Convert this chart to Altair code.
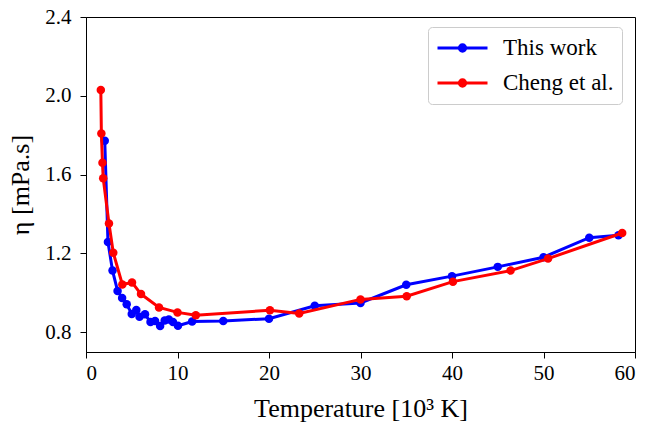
import altair as alt
import pandas as pd

series_names = ["This work", "Cheng et al."]

this_T = [2.05, 2.4, 2.9, 3.45, 3.95, 4.45, 5.0, 5.5, 5.85, 6.45, 7.05, 7.55, 8.1, 8.6,
          9.05, 9.5, 10.05, 11.6, 15, 20, 25, 30, 35, 40, 45, 50, 55, 58.2]
this_eta = [1.772, 1.258, 1.113, 1.010, 0.974, 0.942, 0.893, 0.913, 0.879, 0.891, 0.852,
            0.857, 0.832, 0.860, 0.865, 0.852, 0.833, 0.855, 0.857, 0.869, 0.935, 0.949,
            1.041, 1.085, 1.132, 1.181, 1.280, 1.292]

cheng_T = [1.62, 1.68, 1.8, 1.88, 2.51, 2.98, 3.97, 5.03, 6.01, 7.98, 10.0, 12.0, 20.1,
           23.3, 30.0, 35.05, 40.1, 46.4, 50.5, 58.6]
cheng_eta = [2.03, 1.809, 1.66, 1.582, 1.352, 1.204, 1.043, 1.053, 0.994, 0.926, 0.901,
             0.886, 0.912, 0.895, 0.967, 0.983, 1.057, 1.113, 1.174, 1.304]

x_ticks = [0, 10, 20, 30, 40, 50, 60]
y_ticks = [0.8, 1.2, 1.6, 2.0, 2.4]

df = pd.concat([
    pd.DataFrame({"T": this_T, "eta": this_eta, "series": series_names[0],
                  "idx": range(len(this_T))}),
    pd.DataFrame({"T": cheng_T, "eta": cheng_eta, "series": series_names[1],
                  "idx": range(len(cheng_T))}),
], ignore_index=True)

FONT = "Liberation Serif"

legend_path = ("M-1,0L1,0"
               "M-0.13,0A0.13,0.13 0 1,0 0.13,0A0.13,0.13 0 1,0 -0.13,0"
               "M-0.05,0A0.05,0.05 0 1,0 0.05,0A0.05,0.05 0 1,0 -0.05,0")

color = alt.Color(
    "series:N",
    sort=series_names,
    scale=alt.Scale(domain=series_names, range=["#0000ff", "#ff0000"]),
    legend=alt.Legend(
        title=None, orient="none", legendX=342, legendY=10,
        symbolType=legend_path, symbolSize=2500, symbolStrokeWidth=2.8,
        clipHeight=26, rowPadding=9, labelOffset=14,
        labelFont=FONT, labelFontSize=23, labelColor="black",
        padding=8, strokeColor="#cccccc", fillColor="white", cornerRadius=4,
    ),
)

base = alt.Chart(df).encode(
    x=alt.X("T:Q", scale=alt.Scale(domain=[0, 60], nice=False, zero=False),
            axis=alt.Axis(values=x_ticks, title="Temperature [10³ K]", format="d",
                          titleY=56, titleBaseline="middle", labelPadding=4)),
    y=alt.Y("eta:Q", scale=alt.Scale(domain=[0.7, 2.4], nice=False, zero=False),
            axis=alt.Axis(values=y_ticks, title="η [mPa.s]", format=".1f",
                          titleX=-66, titleBaseline="middle", labelPadding=9)),
    color=color,
    order="idx:Q",
)

layers = []
for name in series_names:
    sub = base.transform_filter(alt.datum.series == name)
    layers.append(sub.mark_line(strokeWidth=3))
    layers.append(sub.mark_circle(size=72, opacity=1))

chart = alt.layer(*layers).properties(
    width=549, height=335,
    autosize=alt.AutoSizeParams(type="none"),
    padding={"left": 86, "top": 17, "right": 27, "bottom": 70},
).configure_axis(
    grid=False, domainColor="black", tickColor="black", tickSize=6,
    labelFont=FONT, labelFontSize=21, labelColor="black",
    titleFont=FONT, titleFontSize=26, titleFontWeight="normal", titleColor="black",
).configure_view(stroke="black", strokeWidth=1)

chart.save("out.html", embed_options={"renderer": "svg", "actions": False})
